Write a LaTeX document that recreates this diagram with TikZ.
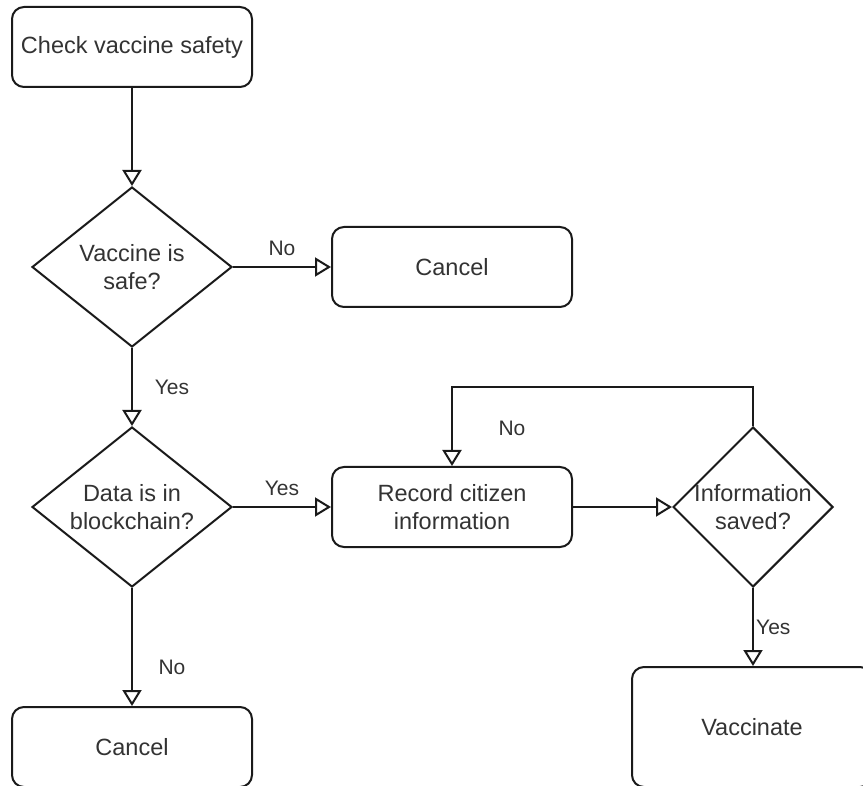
\documentclass[tikz,border=0pt]{standalone}
\usepackage{fontspec}
\setmainfont{Liberation Sans}
\usetikzlibrary{arrows.meta,shapes.geometric}
\definecolor{txtc}{HTML}{333333}
\definecolor{linec}{HTML}{1A1A1A}
\tikzset{
  box/.style={draw=linec, line width=2pt, rounded corners=12pt, minimum width=240pt, minimum height=80pt, inner sep=0pt, fill=white},
  dia/.style={draw=linec, line width=2pt, diamond, inner sep=0pt, fill=white},
  txt/.style={text=txtc, font=\fontsize{23.5}{28.5}\selectfont, align=center, inner sep=0pt},
  lbl/.style={text=txtc, font=\fontsize{21}{25}\selectfont, inner sep=0pt},
  conn/.style={draw=linec, line width=2pt, -{Triangle[open, length=16pt, width=19pt, line width=2pt]}},
  plain/.style={draw=linec, line width=2pt}
}
\begin{document}
\begin{tikzpicture}[x=1pt,y=-1pt]
\useasboundingbox (0,0) rectangle (863,786);
\clip (0,0) rectangle (863,786);
% nodes
\node[box] (check) at (132,47) {};
\node[txt] (checkt) at (check) {Check vaccine safety};
\node[dia, minimum width=200pt, minimum height=160pt] (d1) at (132,267) {};
\node[txt] (d1t) at (d1) {Vaccine is\\safe?};
\node[box] (cancel1) at (452,267) {};
\node[txt] (cancel1t) at (cancel1) {Cancel};
\node[dia, minimum width=200pt, minimum height=160pt] (d2) at (132,507) {};
\node[txt] (d2t) at (d2) {Data is in\\blockchain?};
\node[box] (record) at (452,507) {};
\node[txt] (recordt) at (record) {Record citizen\\information};
\node[dia, minimum width=160pt, minimum height=160pt] (d3) at (753,507) {};
\node[txt] (d3t) at (d3) {Information\\saved?};
\node[box, minimum height=120pt] (vacc) at (752,727) {};
\node[txt] (vacct) at (vacc) {Vaccinate};
\node[box] (cancel2) at (132,747) {};
\node[txt] (cancel2t) at (cancel2) {Cancel};
\coordinate (lp) at (753,387);
% connectors
\draw[conn] (check.south) -- (d1.north);
\draw[conn] (d1.east) -- (cancel1.west);
\draw[conn] (d1.south) -- (d2.north);
\draw[conn] (d2.east) -- (record.west);
\draw[conn] (d2.south) -- (cancel2.north);
\draw[conn] (record.east) -- (d3.west);
\draw[conn] (d3.north) -- (lp) -| (record.north);
\draw[conn] (d3.south) -- (d3.south |- vacc.north);
% labels
\node[lbl] (l1) at (282,248) {No};
\node[lbl] (l2) at (172,387) {Yes};
\node[lbl] (l3) at (282,488) {Yes};
\node[lbl] (l4) at (512,428) {No};
\node[lbl] (l5) at (172,667) {No};
\node[lbl, anchor=west] (l6) at (756,627) {Yes};
\end{tikzpicture}
\end{document}
